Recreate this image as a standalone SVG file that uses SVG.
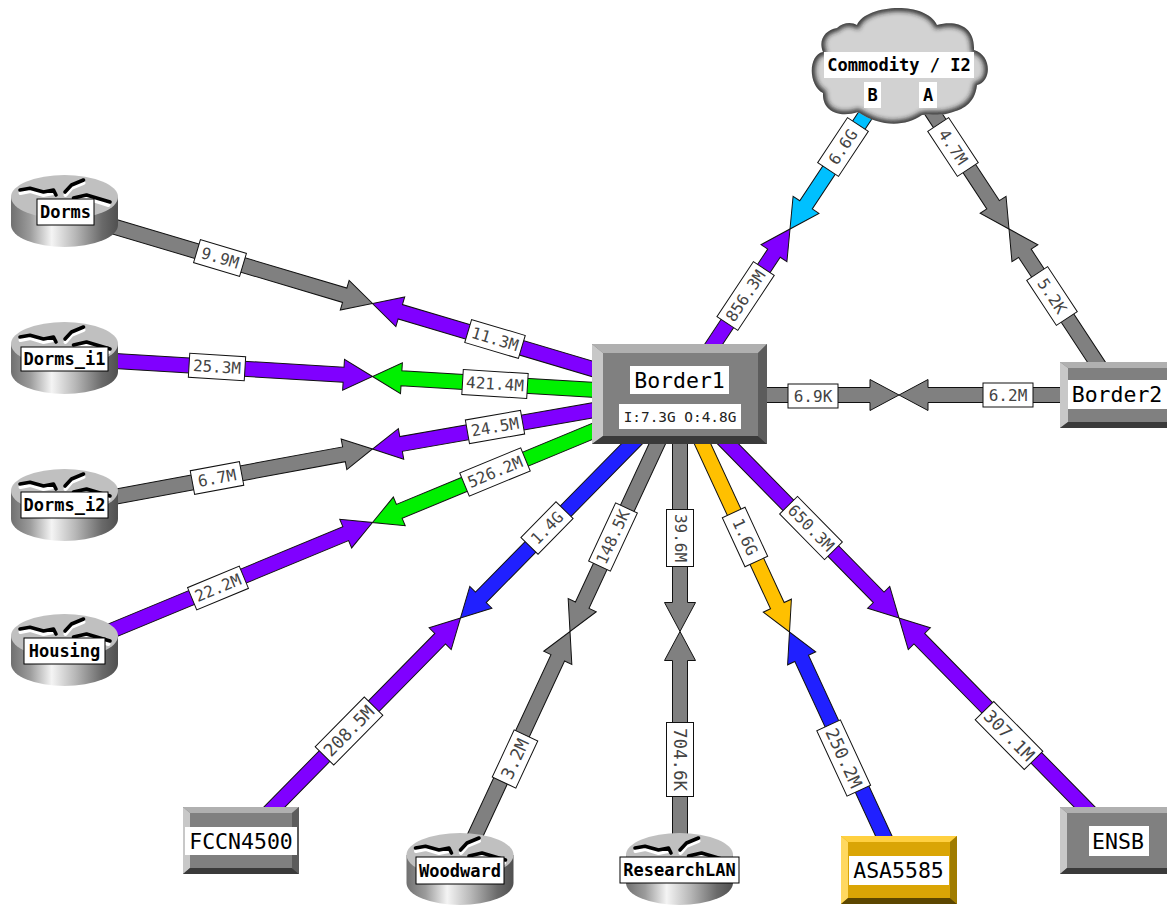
<svg xmlns="http://www.w3.org/2000/svg" xmlns:xlink="http://www.w3.org/1999/xlink" width="1167" height="906" viewBox="0 0 1167 906">
<style>
text{font-family:"DejaVu Sans Mono","Liberation Mono",monospace;text-anchor:middle;dominant-baseline:central}
.a{stroke:#111;stroke-width:1;stroke-linejoin:miter}
.gray{fill:#808080}.pur{fill:#8000ff}.grn{fill:#00f000}.blu{fill:#2020ff}.org{fill:#ffc000}.cya{fill:#00c0ff}
.lb rect{fill:#fff;stroke:#111;stroke-width:1}
.lb text{font-size:16px;fill:#444}
.lb.big text{font-size:17.5px}
.rl{fill:#fff;stroke:#000;stroke-width:1}
.rt{font-size:17px;font-weight:bold;fill:#000}
.nt{font-size:21.5px;fill:#000}
.st{font-size:14.4px;fill:#222}
.w{fill:#fff}
</style>
<defs>
<linearGradient id="side" x1="0" x2="1" y1="0" y2="0">
<stop offset="0" stop-color="#707070"/><stop offset=".18" stop-color="#9c9c9c"/><stop offset=".38" stop-color="#f4f4f4"/><stop offset=".6" stop-color="#b8b8b8"/><stop offset=".85" stop-color="#6a6a6a"/><stop offset="1" stop-color="#505050"/>
</linearGradient>
<g id="router">
<path d="M-53.5,-15 V13 A53.5,22 0 0 0 53.5,13 V-15 Z" fill="url(#side)"/>
<ellipse cx="0" cy="-15" rx="53.5" ry="22" fill="#c0c0c0"/>
<g fill="none" stroke-linejoin="round" stroke-linecap="round">
<path d="M-44,-19 L-34,-21 L-21,-17 L-11,-19 M1,-17 L7,-24 L19,-29 M9,-11 L22,-14 L44,-7" stroke="#fff" stroke-width="4"/>
<path d="M-44.5,-22 L-34.5,-23.7 L-21,-20 L-11,-22 L-8.5,-17 M0.5,-20 L7,-27 L19,-32 M9,-14 L22,-17 L45.5,-10" stroke="#000" stroke-width="3.6"/>
</g>
</g>
<clipPath id="cc"><path id="cp" d="M857,25 C865,5 925,0 937,25 C955,20 975,25 974,50 C992,55 992,82 977,85 C975,105 960,110 953,112 C940,117 930,113 922,115 C905,127 880,127 858,112 C840,118 822,112 823,93 C808,85 808,55 823,52 C818,40 825,30 837,28 C843,22 852,22 857,25 Z"/></clipPath>
<filter id="bl" x="-20%" y="-20%" width="140%" height="140%"><feGaussianBlur stdDeviation="2.5"/></filter>
</defs>
<rect width="1167" height="906" fill="#fff"/>

<g id="connectors">
<polygon class="a gray" transform="translate(372.5,303.5) rotate(16.57)" points="-321,-7.5 -29,-7.5 -29,-15.5 0,0 -29,15.5 -29,7.5 -321,7.5"/>
<polygon class="a pur" transform="translate(372.5,303.5) rotate(196.57)" points="-321,-7.5 -29,-7.5 -29,-15.5 0,0 -29,15.5 -29,7.5 -321,7.5"/>
<polygon class="a pur" transform="translate(372.5,376.5) rotate(3.44)" points="-308,-7.5 -29,-7.5 -29,-15.5 0,0 -29,15.5 -29,7.5 -308,7.5"/>
<polygon class="a grn" transform="translate(372.5,376.5) rotate(183.44)" points="-308,-7.5 -29,-7.5 -29,-15.5 0,0 -29,15.5 -29,7.5 -308,7.5"/>
<polygon class="a gray" transform="translate(372.5,449) rotate(-10.5)" points="-313,-7.5 -29,-7.5 -29,-15.5 0,0 -29,15.5 -29,7.5 -313,7.5"/>
<polygon class="a pur" transform="translate(372.5,449) rotate(170.04)" points="-312,-7.5 -29,-7.5 -29,-15.5 0,0 -29,15.5 -29,7.5 -312,7.5"/>
<polygon class="a pur" transform="translate(372.5,522.5) rotate(-22.52)" points="-333,-7.5 -29,-7.5 -29,-15.5 0,0 -29,15.5 -29,7.5 -333,7.5"/>
<polygon class="a grn" transform="translate(372.5,522.5) rotate(157.48)" points="-333,-7.5 -29,-7.5 -29,-15.5 0,0 -29,15.5 -29,7.5 -333,7.5"/>
<polygon class="a pur" transform="translate(460.5,618) rotate(-45.45)" points="-313,-7.5 -29,-7.5 -29,-15.5 0,0 -29,15.5 -29,7.5 -313,7.5"/>
<polygon class="a blu" transform="translate(460.5,618) rotate(134.55)" points="-313,-7.5 -29,-7.5 -29,-15.5 0,0 -29,15.5 -29,7.5 -313,7.5"/>
<polygon class="a gray" transform="translate(570,631.5) rotate(-65.06)" points="-261,-7.5 -29,-7.5 -29,-15.5 0,0 -29,15.5 -29,7.5 -261,7.5"/>
<polygon class="a gray" transform="translate(570,631.5) rotate(114.94)" points="-261,-7.5 -29,-7.5 -29,-15.5 0,0 -29,15.5 -29,7.5 -261,7.5"/>
<polygon class="a gray" transform="translate(680,631.5) rotate(-90)" points="-236,-7.5 -29,-7.5 -29,-15.5 0,0 -29,15.5 -29,7.5 -236,7.5"/>
<polygon class="a gray" transform="translate(680,631.5) rotate(90)" points="-236,-7.5 -29,-7.5 -29,-15.5 0,0 -29,15.5 -29,7.5 -236,7.5"/>
<polygon class="a blu" transform="translate(789.5,632) rotate(-114.8)" points="-261,-7.5 -29,-7.5 -29,-15.5 0,0 -29,15.5 -29,7.5 -261,7.5"/>
<polygon class="a org" transform="translate(789.5,632) rotate(65.2)" points="-261,-7.5 -29,-7.5 -29,-15.5 0,0 -29,15.5 -29,7.5 -261,7.5"/>
<polygon class="a pur" transform="translate(899,618) rotate(-134.48)" points="-312,-7.5 -29,-7.5 -29,-15.5 0,0 -29,15.5 -29,7.5 -312,7.5"/>
<polygon class="a pur" transform="translate(899,618) rotate(45.52)" points="-312,-7.5 -29,-7.5 -29,-15.5 0,0 -29,15.5 -29,7.5 -312,7.5"/>
<polygon class="a gray" transform="translate(899,395) rotate(180)" points="-219,-7.5 -29,-7.5 -29,-15.5 0,0 -29,15.5 -29,7.5 -219,7.5"/>
<polygon class="a gray" transform="translate(899,395)" points="-219,-7.5 -29,-7.5 -29,-15.5 0,0 -29,15.5 -29,7.5 -219,7.5"/>
<polygon class="a pur" transform="translate(790,229) rotate(-56.47)" points="-199,-7.5 -29,-7.5 -29,-15.5 0,0 -29,15.5 -29,7.5 -199,7.5"/>
<polygon class="a cya" transform="translate(790,229) rotate(123.53)" points="-199,-7.5 -29,-7.5 -29,-15.5 0,0 -29,15.5 -29,7.5 -199,7.5"/>
<polygon class="a gray" transform="translate(1009,229) rotate(-123.3)" points="-199,-7.5 -29,-7.5 -29,-15.5 0,0 -29,15.5 -29,7.5 -199,7.5"/>
<polygon class="a gray" transform="translate(1009,229) rotate(56.7)" points="-199,-7.5 -29,-7.5 -29,-15.5 0,0 -29,15.5 -29,7.5 -199,7.5"/>

<g class="lb" transform="translate(220,258) rotate(16.57)"><rect x="-24" y="-12" width="48" height="24"/><text>9.9M</text></g>
<g class="lb" transform="translate(495,339) rotate(16.57)"><rect x="-28" y="-12" width="56" height="24"/><text>11.3M</text></g>
<g class="lb" transform="translate(217,367) rotate(3.44)"><rect x="-28" y="-12" width="56" height="24"/><text>25.3M</text></g>
<g class="lb" transform="translate(495,384) rotate(3.44)"><rect x="-32.5" y="-12.5" width="65" height="25"/><text>421.4M</text></g>
<g class="lb" transform="translate(217,478) rotate(-10.5)"><rect x="-25" y="-12" width="50" height="24"/><text>6.7M</text></g>
<g class="lb" transform="translate(495,427) rotate(-9.96)"><rect x="-28" y="-12" width="56" height="24"/><text>24.5M</text></g>
<g class="lb" transform="translate(218,588) rotate(-22.52)"><rect x="-28" y="-12" width="56" height="24"/><text>22.2M</text></g>
<g class="lb" transform="translate(495,472) rotate(-22.52)"><rect x="-33" y="-12.5" width="66" height="25"/><text>526.2M</text></g>
<g class="lb big" transform="translate(349,731) rotate(-45.45)"><rect x="-35" y="-13" width="70" height="26"/><text>208.5M</text></g>
<g class="lb" transform="translate(547,528) rotate(-45.45)"><rect x="-25" y="-12" width="50" height="24"/><text>1.4G</text></g>
<g class="lb big" transform="translate(515,759) rotate(-65.06)"><rect x="-26" y="-13" width="52" height="26"/><text>3.2M</text></g>
<g class="lb" transform="translate(613,537) rotate(-65.06)"><rect x="-32" y="-12" width="64" height="24"/><text>148.5K</text></g>
<g class="lb big" transform="translate(680,759.5) rotate(90)"><rect x="-37" y="-13.5" width="74" height="27"/><text>704.6K</text></g>
<g class="lb" transform="translate(680,538) rotate(90)"><rect x="-28.5" y="-13.5" width="57" height="27"/><text>39.6M</text></g>
<g class="lb big" transform="translate(843.7,758) rotate(65.2)"><rect x="-36" y="-13" width="72" height="26"/><text>250.2M</text></g>
<g class="lb" transform="translate(745,537) rotate(65.2)"><rect x="-27" y="-12.5" width="54" height="25"/><text>1.6G</text></g>
<g class="lb big" transform="translate(1009,735.5) rotate(45.52)"><rect x="-35" y="-13" width="70" height="26"/><text>307.1M</text></g>
<g class="lb" transform="translate(811,528) rotate(45.52)"><rect x="-32" y="-12.5" width="64" height="25"/><text>650.3M</text></g>
<g class="lb" transform="translate(813,396)"><rect x="-25" y="-12" width="50" height="24"/><text>6.9K</text></g>
<g class="lb" transform="translate(1008,395)"><rect x="-25" y="-12" width="50" height="24"/><text>6.2M</text></g>
<g class="lb" transform="translate(745.6,296) rotate(-56.47)"><rect x="-33" y="-12.5" width="66" height="25"/><text>856.3M</text></g>
<g class="lb" transform="translate(843,147) rotate(-56.47)"><rect x="-27" y="-12.5" width="54" height="25"/><text>6.6G</text></g>
<g class="lb" transform="translate(953,147) rotate(56.7)"><rect x="-27" y="-12.5" width="54" height="25"/><text>4.7M</text></g>
<g class="lb" transform="translate(1052,296) rotate(56.7)"><rect x="-27" y="-12.5" width="54" height="25"/><text>5.2K</text></g>
</g>

<g id="Dorms"><use xlink:href="#router" href="#router" x="64.5" y="212"/><rect class="rl" x="37" y="199" width="57" height="26"/><text class="rt" x="65.5" y="212">Dorms</text></g>
<g id="Dorms_i1"><use xlink:href="#router" href="#router" x="64.5" y="359"/><rect class="rl" x="21" y="347" width="87" height="24"/><text class="rt" x="64.5" y="359">Dorms_i1</text></g>
<g id="Dorms_i2"><use xlink:href="#router" href="#router" x="64.5" y="506"/><rect class="rl" x="21" y="492" width="87" height="26"/><text class="rt" x="64.5" y="505">Dorms_i2</text></g>
<g id="Housing"><use xlink:href="#router" href="#router" x="64.5" y="651"/><rect class="rl" x="24" y="638" width="81" height="26"/><text class="rt" x="64.5" y="651">Housing</text></g>
<g id="Woodward"><use xlink:href="#router" href="#router" x="460" y="870"/><rect class="rl" x="416" y="857" width="88" height="27"/><text class="rt" x="460" y="870.5">Woodward</text></g>
<g id="ResearchLAN"><use xlink:href="#router" href="#router" x="679.5" y="870"/><rect class="rl" x="620" y="857" width="119" height="26"/><text class="rt" x="679.5" y="870">ResearchLAN</text></g>

<g id="Border1">
<rect x="592" y="344" width="175" height="100" fill="#808080"/>
<polygon points="592,344 603,353 603,436 592,444" fill="#c8c8c8"/>
<polygon points="592,344 767,344 758,353 603,353" fill="#b0b0b0"/>
<polygon points="767,344 767,444 758,436 758,353" fill="#5c5c5c"/>
<polygon points="592,444 603,436 758,436 767,444" fill="#3a3a3a"/>
<rect class="w" x="630" y="366" width="99" height="28"/><text class="nt" x="679.5" y="380">Border1</text>
<rect class="w" x="619" y="404" width="122" height="25"/><text class="st" x="680" y="416.5">I:7.3G O:4.8G</text>
</g>
<g id="Border2">
<rect x="1060" y="362" width="116" height="66" fill="#808080"/>
<polygon points="1060,362 1068,368 1068,422 1060,428" fill="#c8c8c8"/>
<polygon points="1060,362 1176,362 1168,368 1068,368" fill="#b0b0b0"/>
<polygon points="1060,428 1068,422 1168,422 1176,428" fill="#3a3a3a"/>
<rect class="w" x="1068" y="380" width="100" height="29"/><text class="nt" x="1117" y="394.5">Border2</text>
</g>
<g id="FCCN4500">
<rect x="183" y="807" width="116" height="67" fill="#808080"/>
<polygon points="183,807 190,813 190,868 183,874" fill="#c8c8c8"/>
<polygon points="183,807 299,807 292,813 190,813" fill="#b0b0b0"/>
<polygon points="299,807 299,874 292,868 292,813" fill="#5c5c5c"/>
<polygon points="183,874 190,868 292,868 299,874" fill="#3a3a3a"/>
<rect class="w" x="185" y="827" width="112" height="28"/><text class="nt" x="241" y="841">FCCN4500</text>
</g>
<g id="ENSB">
<rect x="1060" y="807" width="116" height="67" fill="#808080"/>
<polygon points="1060,807 1067,813 1067,868 1060,874" fill="#c8c8c8"/>
<polygon points="1060,807 1176,807 1169,813 1067,813" fill="#b0b0b0"/>
<polygon points="1060,874 1067,868 1169,868 1176,874" fill="#3a3a3a"/>
<rect class="w" x="1089" y="826" width="60" height="30"/><text class="nt" x="1118" y="841">ENSB</text>
</g>
<g id="ASA5585">
<rect x="841" y="836" width="116" height="68" fill="#daa505"/>
<polygon points="841,836 848,842 848,898 841,904" fill="#ffd860"/>
<polygon points="841,836 957,836 950,842 848,842" fill="#ffd040"/>
<polygon points="957,836 957,904 950,898 950,842" fill="#a07c00"/>
<polygon points="841,904 848,898 950,898 957,904" fill="#5c4600"/>
<rect class="w" x="849" y="856" width="100" height="29"/><text class="nt" x="898.5" y="870.5">ASA5585</text>
</g>
<g id="Commodity">
<use xlink:href="#cp" href="#cp" fill="#d2d2d2"/>
<g clip-path="url(#cc)"><use xlink:href="#cp" href="#cp" fill="none" stroke="#222" stroke-width="6" filter="url(#bl)"/></g>
<rect class="w" x="824" y="52" width="150" height="26"/><text class="rt" x="899" y="65">Commodity / I2</text>
<rect class="w" x="864" y="82" width="17" height="26"/><text class="rt" x="872.5" y="95">B</text>
<rect class="w" x="919" y="82" width="18" height="26"/><text class="rt" x="928" y="95">A</text>
</g>
</svg>
